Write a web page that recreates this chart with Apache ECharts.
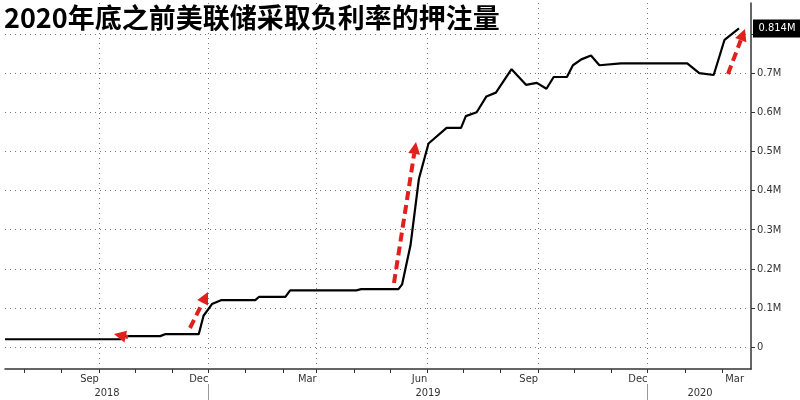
<!DOCTYPE html>
<html><head><meta charset="utf-8">
<script src="https://cdn.jsdelivr.net/npm/echarts@6/dist/echarts.min.js"></script>
<style>html,body{margin:0;background:#fff}#c{width:800px;height:400px}</style>
</head><body><div id="c"></div>
<script>
const dates = ['2018-06-15','2018-09-19','2018-09-23','2018-10-22','2018-10-26','2018-11-23','2018-11-27','2018-12-04','2018-12-12','2019-01-09','2019-01-12','2019-02-03','2019-02-07','2019-04-03','2019-04-07','2019-05-08','2019-05-11','2019-05-18','2019-05-25','2019-06-02','2019-06-17','2019-06-29','2019-07-03','2019-07-12','2019-07-20','2019-07-28','2019-08-10','2019-08-22','2019-08-31','2019-09-08','2019-09-14','2019-09-25','2019-09-30','2019-10-07','2019-10-15','2019-10-22','2019-11-09','2019-11-26','2020-01-03','2020-01-13','2020-01-25','2020-02-03','2020-02-15'];
const values = [0.02,0.02,0.028,0.028,0.033,0.033,0.08,0.11,0.12,0.12,0.128,0.128,0.145,0.145,0.148,0.148,0.16,0.26,0.43,0.52,0.56,0.56,0.59,0.60,0.64,0.65,0.71,0.67,0.675,0.66,0.69,0.69,0.72,0.735,0.745,0.72,0.725,0.725,0.725,0.70,0.695,0.785,0.814];
const monthTicks = ['2018-09-01','2018-12-01','2019-03-01','2019-06-01','2019-09-01','2019-12-01'];
const monthLabels = ['Sep','Dec','Mar','Jun','Sep','Dec','Mar'];
const yTicks = [0,0.1,0.2,0.3,0.4,0.5,0.6,0.7,0.8];
const yLabels = ['0','0.1M','0.2M','0.3M','0.4M','0.5M','0.6M','0.7M','0.8M'];
const years = ['2018','2019','2020'];
const lastLabel = '0.814M';
const title = '2020年底之前美联储采取负利率的押注量';

const ch = echarts.init(document.getElementById('c'));
const T = d => Date.parse(d+'T00:00:00Z');
const ts = monthTicks.map(T);
const minorTs = [];
for (let y=2018;y<=2020;y++) for (let m=1;m<=12;m++){const t=Date.UTC(y,m-1,1); if(t>T('2018-06-15')&&t<T('2020-02-25')) minorTs.push(t);}
function arrow(x1,y1,x2,y2){
  const a=Math.atan2(y2-y1,x2-x1), L=12, W=6;
  const bx=x2-L*Math.cos(a), by=y2-L*Math.sin(a);
  return [
    {type:'line',shape:{x1,y1,x2:bx,y2:by},style:{stroke:'#e0201c',lineWidth:4,lineDash:[9,5]},z:100},
    {type:'polygon',shape:{points:[[x2,y2],[bx+W*Math.sin(a),by-W*Math.cos(a)],[bx-W*Math.sin(a),by+W*Math.cos(a)]]},style:{fill:'#e0201c'},z:100}
  ];
}
const font = 'DejaVu Sans Condensed';
const grid = {color:'#777',type:[1,4],width:1};
ch.setOption({
  animation:false,
  grid:{left:5,right:49,top:3,bottom:31},
  xAxis:{type:'value',min:T('2018-06-15'),max:T('2020-02-25'),
    axisLine:{onZero:false,lineStyle:{color:'#333',width:1.5}},
    axisTick:{customValues:minorTs,length:4,lineStyle:{color:'#333'}},
    axisLabel:{customValues:ts,formatter:(v)=>{const i=ts.findIndex(t=>Math.abs(t-v)<1000);return i<0?'':monthLabels[i];},align:'right',color:'#333',fontSize:11,fontFamily:font,margin:5},
    splitLine:{show:false}
  },
  yAxis:{type:'value',position:'right',min:-0.056,max:0.879,
    axisLine:{show:true,lineStyle:{color:'#333',width:1.5}},
    axisTick:{show:true,customValues:yTicks,length:4,lineStyle:{color:'#333'}},
    axisLabel:{customValues:yTicks,formatter:(v)=>{const i=yTicks.findIndex(t=>Math.abs(t-v)<1e-6);return i<0?'':yLabels[i];},color:'#333',fontSize:11,fontFamily:font,margin:6},
    splitLine:{show:false}
  },
  series:[{type:'line',data:dates.map((d,i)=>[T(d),values[i]]),showSymbol:false,lineStyle:{color:'#000',width:2.2},z:5,
    markLine:{silent:true,symbol:'none',label:{show:false},lineStyle:grid,z:1,
      data:[...yTicks.map(v=>({yAxis:v})),...ts.map(v=>({xAxis:v}))]},
    markPoint:{symbol:'rect',symbolSize:[48,18],silent:true,
      data:[{coord:[T('2020-02-25'),0.814],symbolOffset:[26,0],itemStyle:{color:'#000'},label:{show:true,formatter:lastLabel,color:'#fff',fontSize:11,fontFamily:font}}]}
  }],
  graphic:[
    {type:'text',left:4,top:4,z:90,style:{text:title,fill:'#000',font:'bold 27px "Noto Sans CJK SC"',backgroundColor:'#fff',padding:[0,4,2,0]}},
    {type:'text',x:744,y:374,style:{text:monthLabels[6],fill:'#333',font:'11px "DejaVu Sans Condensed"',align:'right'}},
    {type:'text',x:107,y:388,style:{text:years[0],fill:'#333',font:'11px "DejaVu Sans Condensed"',align:'center'}},
    {type:'text',x:428,y:388,style:{text:years[1],fill:'#333',font:'11px "DejaVu Sans Condensed"',align:'center'}},
    {type:'text',x:700,y:388,style:{text:years[2],fill:'#333',font:'11px "DejaVu Sans Condensed"',align:'center'}},
    {type:'line',shape:{x1:208.5,y1:384,x2:208.5,y2:400},style:{stroke:'#999',lineWidth:1}},
    {type:'line',shape:{x1:647.5,y1:384,x2:647.5,y2:400},style:{stroke:'#999',lineWidth:1}},
    ...arrow(128,337,114,334),
    ...arrow(190,328,208,292),
    ...arrow(394,283,416,142),
    ...arrow(728,74,745,29)
  ]
});
</script></body></html>
